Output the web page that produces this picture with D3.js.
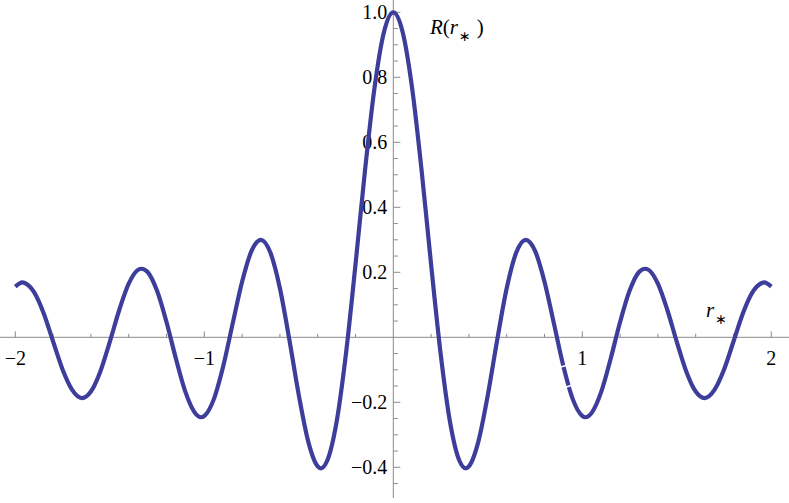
<!DOCTYPE html>
<html>
<head>
<meta charset="utf-8">
<script src="https://cdn.jsdelivr.net/npm/d3@7/dist/d3.min.js"></script>
<style>
    body { margin: 0; background: #fff; }
    .tick_label { font-family: "Liberation Serif", "Times New Roman", serif; font-size: 20px; fill: #000; }
    .axis_title { font-family: "Liberation Serif", "Times New Roman", serif; font-size: 21px; fill: #000; }
    .star { font-family: "DejaVu Sans", sans-serif; font-size: 14px; }
</style>
</head>
<body>
<svg id="chart" width="789" height="503"></svg>
<script>
// values
var r_star = [-2.000, -1.962, -1.950, -1.900, -1.850, -1.800, -1.750, -1.700, -1.647, -1.600, -1.550, -1.500,
    -1.450, -1.400, -1.350, -1.332, -1.300, -1.250, -1.200, -1.150, -1.100, -1.050, -1.017, -1.000, -0.950,
    -0.900, -0.850, -0.800, -0.750, -0.700, -0.650, -0.600, -0.550, -0.500, -0.450, -0.400, -0.383, -0.350,
    -0.300, -0.250, -0.200, -0.150, -0.100, -0.050, 0.000, 0.050, 0.100, 0.150, 0.200, 0.250, 0.300, 0.350,
    0.383, 0.400, 0.450, 0.500, 0.550, 0.600, 0.650, 0.700, 0.750, 0.800, 0.850, 0.900, 0.950, 1.000, 1.017,
    1.050, 1.100, 1.150, 1.200, 1.250, 1.300, 1.332, 1.350, 1.400, 1.450, 1.500, 1.550, 1.600, 1.647, 1.700,
    1.750, 1.800, 1.850, 1.900, 1.950, 1.962, 2.000];
var R_vals = [0.156, 0.169, 0.167, 0.138, 0.074, -0.013, -0.099, -0.161, -0.187, -0.167, -0.105, -0.014,
    0.084, 0.165, 0.208, 0.211, 0.201, 0.143, 0.047, -0.066, -0.168, -0.232, -0.246, -0.242, -0.191,
    -0.089, 0.042, 0.171, 0.266, 0.300, 0.260, 0.151, -0.007, -0.178, -0.321, -0.397, -0.403, -0.380,
    -0.260, -0.048, 0.224, 0.512, 0.765, 0.938, 1.000, 0.938, 0.765, 0.512, 0.224, -0.048, -0.260, -0.380,
    -0.403, -0.397, -0.321, -0.178, -0.007, 0.151, 0.260, 0.300, 0.266, 0.171, 0.042, -0.089, -0.191, -0.242, -0.246,
    -0.232, -0.168, -0.066, 0.047, 0.143, 0.201, 0.211, 0.208, 0.165, 0.084, -0.014, -0.105, -0.167, -0.187, -0.161,
    -0.099, -0.013, 0.074, 0.138, 0.167, 0.169, 0.156];
var x_major = [-2, -1, 1, 2];
var x_labels = ["\u22122", "\u22121", "1", "2"];
var y_major = [-0.4, -0.2, 0.2, 0.4, 0.6, 0.8, 1.0];
var y_labels = ["\u22120.4", "\u22120.2", "0.2", "0.4", "0.6", "0.8", "1.0"];
var x_minor = [-1.8, -1.6, -1.4, -1.2, -0.8, -0.6, -0.4, -0.2, 0.2, 0.4, 0.6, 0.8, 1.2, 1.4, 1.6, 1.8];
var y_minor = [-0.45, -0.35, -0.3, -0.25, -0.15, -0.1, -0.05, 0.05, 0.1, 0.15, 0.25, 0.3, 0.35,
    0.45, 0.5, 0.55, 0.65, 0.7, 0.75, 0.85, 0.9, 0.95];
var gap_r = [0.90, 0.93];

var width = 789;
var height = 503;
var line_col = "#3d3d9b";
var axis_col = "#8a8a8a";

var svg = d3.select("#chart");
var xScale = d3.scaleLinear().domain([-2, 2]).range([15.3, 771.3]);
var yScale = d3.scaleLinear().domain([0, 1]).range([337.3, 12.3]);
var x0 = xScale(0);
var y0 = yScale(0);

// y tick labels sit under the curve
svg.selectAll(".ylab")
        .data(y_major)
        .enter().append("text")
        .attr("class", "tick_label")
        .attr("x", x0 - 6)
        .attr("y", function (d) { return yScale(d) + 7; })
        .style("text-anchor", "end")
        .text(function (d, i) { return y_labels[i]; });
svg.selectAll(".xlab")
        .data(x_major)
        .enter().append("text")
        .attr("class", "tick_label")
        .attr("x", function (d) { return xScale(d); })
        .attr("y", 365)
        .style("text-anchor", "middle")
        .text(function (d, i) { return x_labels[i]; });

// axes
svg.append("line")
        .attr("x1", 0).attr("x2", width)
        .attr("y1", y0).attr("y2", y0)
        .attr("stroke", axis_col).attr("stroke-width", 1);
svg.append("line")
        .attr("x1", x0).attr("x2", x0)
        .attr("y1", 0).attr("y2", 498)
        .attr("stroke", axis_col).attr("stroke-width", 1);
svg.selectAll(".xmaj").data(x_major).enter().append("line")
        .attr("x1", function (d) { return xScale(d); })
        .attr("x2", function (d) { return xScale(d); })
        .attr("y1", y0).attr("y2", y0 - 6)
        .attr("stroke", axis_col);
svg.selectAll(".xmin").data(x_minor).enter().append("line")
        .attr("x1", function (d) { return xScale(d); })
        .attr("x2", function (d) { return xScale(d); })
        .attr("y1", y0).attr("y2", y0 - 3.5)
        .attr("stroke", axis_col);
svg.selectAll(".ymaj").data(y_major).enter().append("line")
        .attr("x1", x0).attr("x2", x0 + 7)
        .attr("y1", function (d) { return yScale(d); })
        .attr("y2", function (d) { return yScale(d); })
        .attr("stroke", axis_col);
svg.selectAll(".ymin").data(y_minor).enter().append("line")
        .attr("x1", x0).attr("x2", x0 + 4.5)
        .attr("y1", function (d) { return yScale(d); })
        .attr("y2", function (d) { return yScale(d); })
        .attr("stroke", axis_col);

// curve
var pts = r_star.map(function (r, i) { return [r, R_vals[i]]; });
var line = d3.line()
        .x(function (d) { return xScale(d[0]); })
        .y(function (d) { return yScale(d[1]); })
        .curve(d3.curveMonotoneX);
svg.append("path")
        .datum(pts)
        .attr("d", line)
        .attr("fill", "none")
        .attr("stroke", line_col)
        .attr("stroke-width", 4.2)
        .attr("stroke-linejoin", "round");

// the two small white breaks in the curve
function valueAt(r) {
    var i = d3.bisector(function (d) { return d[0]; }).left(pts, r);
    var a = pts[Math.max(i - 1, 0)], b = pts[i];
    var t = (r - a[0]) / (b[0] - a[0]);
    return a[1] + t * (b[1] - a[1]);
}
gap_r.forEach(function (r) {
    var px = xScale(r), py = yScale(valueAt(r));
    var dx = xScale(r + 0.005) - xScale(r - 0.005);
    var dy = yScale(valueAt(r + 0.005)) - yScale(valueAt(r - 0.005));
    var len = Math.sqrt(dx * dx + dy * dy);
    var nx = -dy / len * 4, ny = dx / len * 4;
    svg.append("line")
            .attr("x1", px - nx).attr("y1", py - ny)
            .attr("x2", px + nx).attr("y2", py + ny)
            .attr("stroke", "#fff").attr("stroke-width", 1.6);
});

// axis titles
var ylab = svg.append("text").attr("class", "axis_title").attr("x", 430).attr("y", 34);
ylab.append("tspan").style("font-style", "italic").text("R");
ylab.append("tspan").text("(");
ylab.append("tspan").style("font-style", "italic").text("r");
ylab.append("tspan").attr("class", "star").attr("dy", 7).attr("dx", 1).text("\u2217");
ylab.append("tspan").attr("dy", -7).attr("dx", 6).text(")");

var xlab = svg.append("text").attr("class", "axis_title").attr("x", 706).attr("y", 317);
xlab.append("tspan").style("font-style", "italic").text("r");
xlab.append("tspan").attr("class", "star").attr("dy", 7).attr("dx", 1).text("\u2217");
</script>
</body>
</html>
